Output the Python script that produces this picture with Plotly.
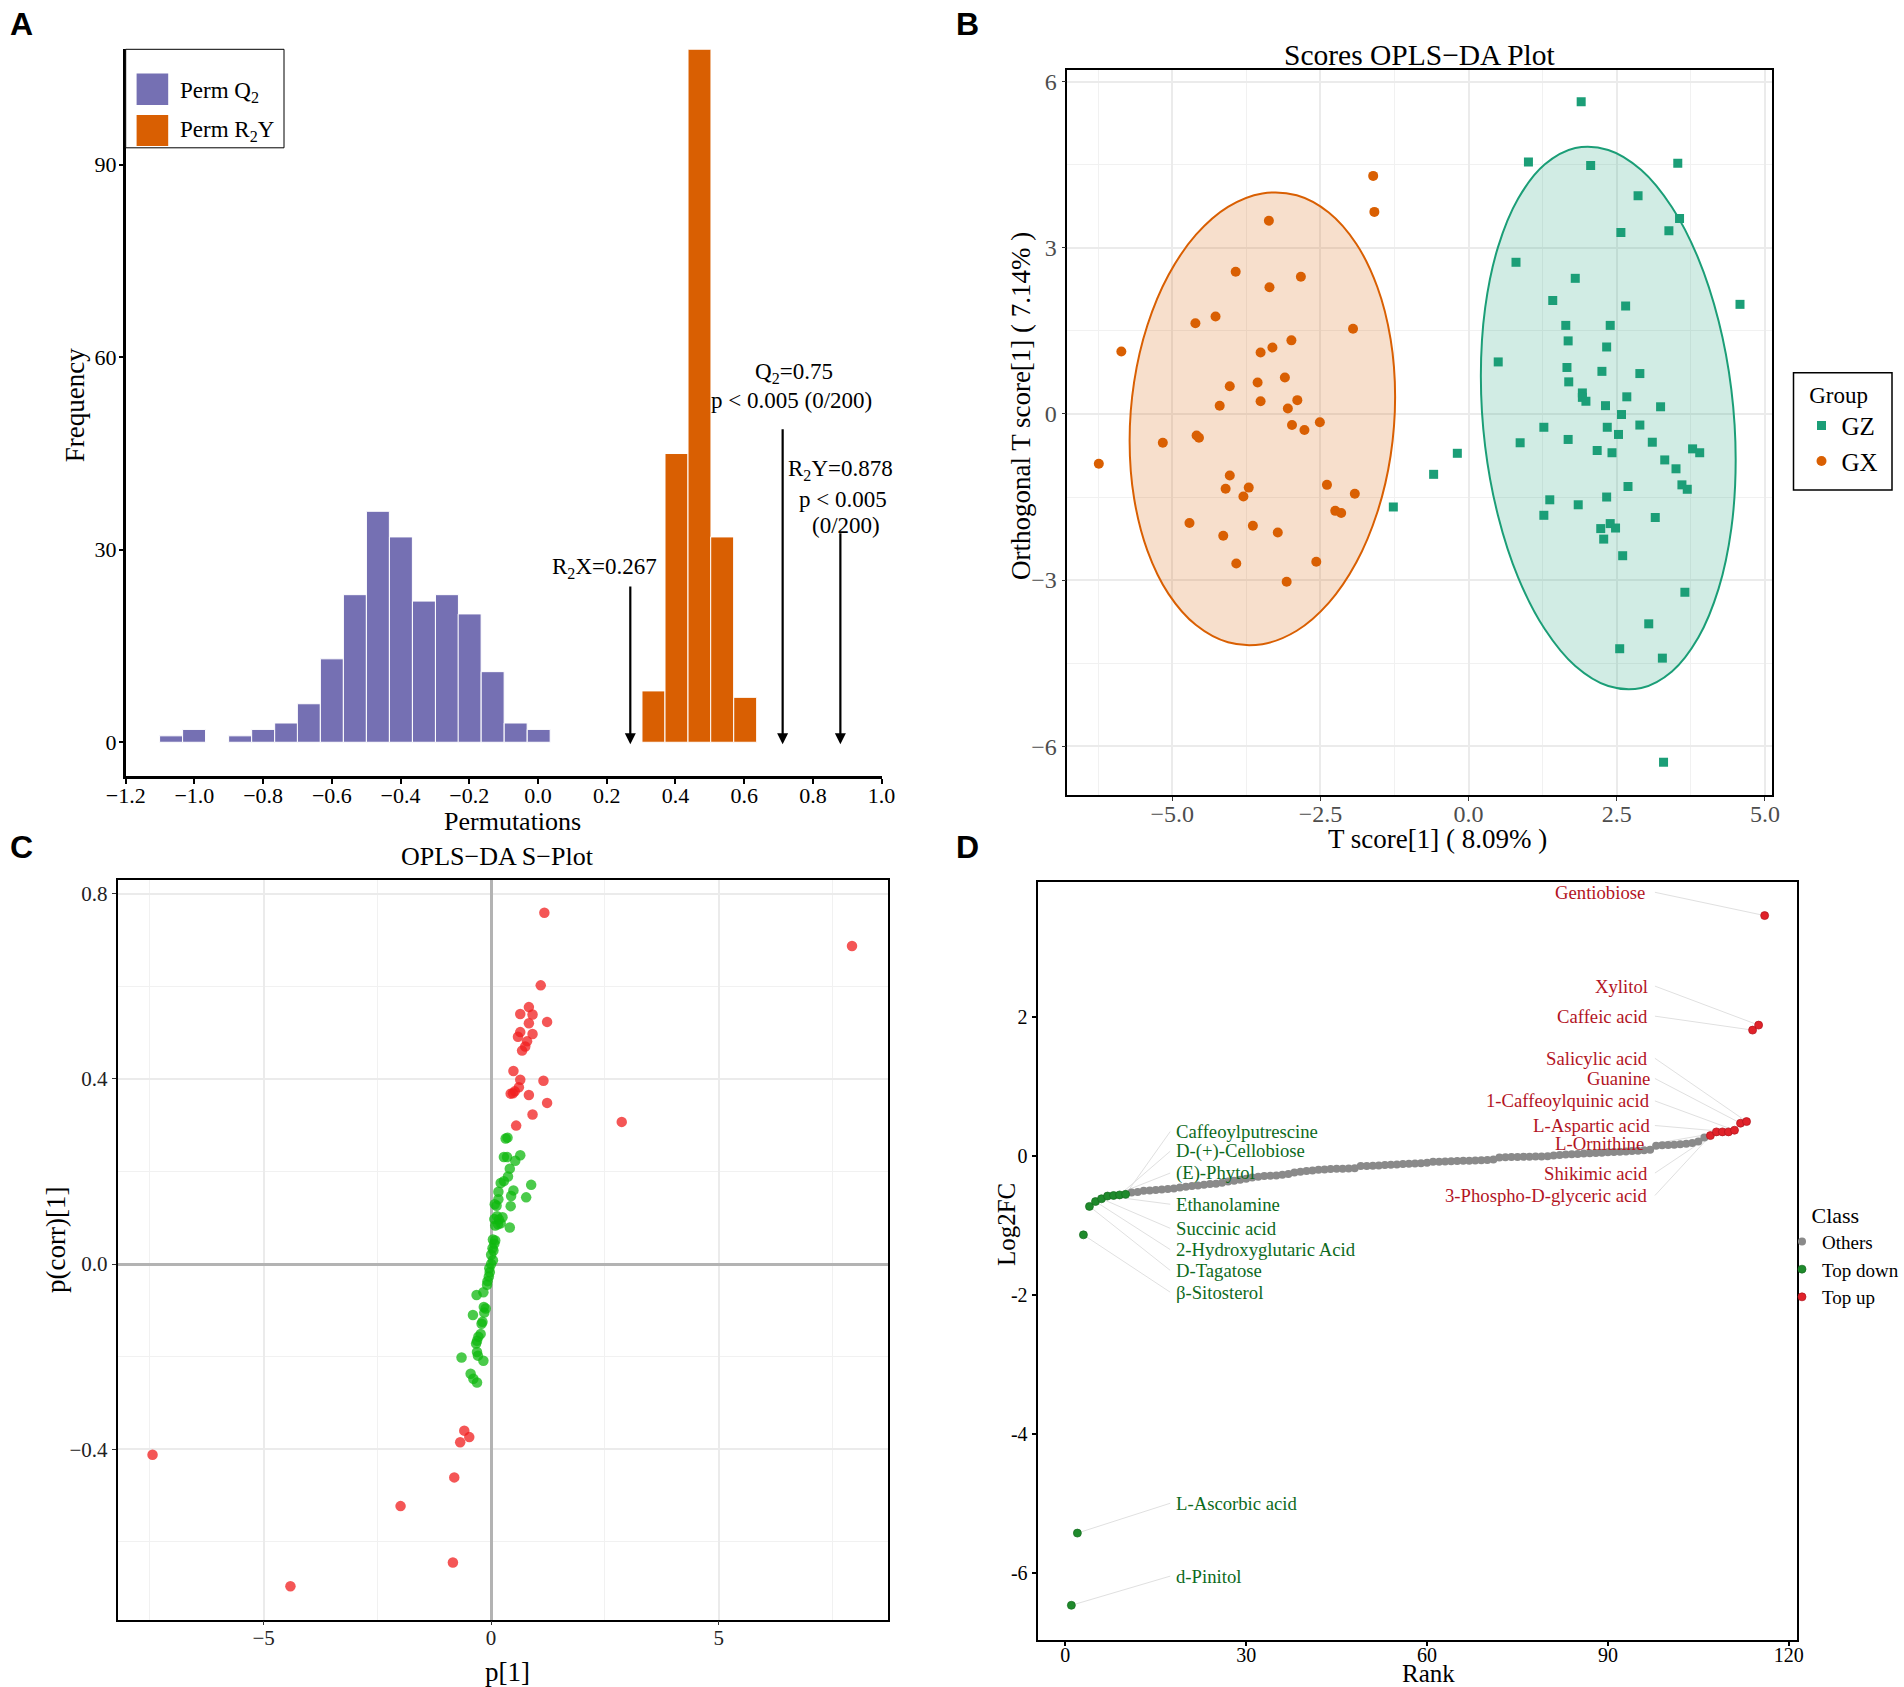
import plotly.graph_objects as go

W, H = 1904, 1687
SERIF = "Liberation Serif"

# ---------- Panel A ----------
q2_bins = [-1.068,-1.001,-0.934,-0.867,-0.800,-0.733,-0.667,-0.600,-0.533,-0.466,-0.399,-0.332,-0.265,-0.199,-0.132,-0.065,0.002]
q2_freq = [1,2,0,1,2,3,6,13,23,36,32,22,23,20,11,3,2]
r2y_bins = [0.336,0.403,0.470,0.536,0.603]
r2y_freq = [8,45,108,32,7]
bin_width = 0.0668
arrow_x = [0.2686,0.712,0.88]
arrow_top = [24.5,49,32.8]
arrow_tip = [-0.3,-0.3,-0.3]
note_text = ["R<sub>2</sub>X=0.267","Q<sub>2</sub>=0.75","p < 0.005 (0/200)","R<sub>2</sub>Y=0.878","p < 0.005","(0/200)"]
note_x = [0.1943,0.7456,0.7367,0.88,0.888,0.897]
note_y = [27.1,57.5,53.3,42.5,37.8,33.8]

# ---------- Panel B ----------
gx_x = [-1.61,-1.59,-3.37,-3.93,-2.83,-3.36,-4.27,-4.61,-1.95,-5.86,-2.99,-3.31,-3.51,-3.10,-3.56,-4.03,-2.89,-3.51,-4.20,-3.05,-2.51,-2.98,-2.77,-5.16,-4.59,-4.55,-6.24,-4.03,-4.10,-3.71,-3.80,-2.39,-1.92,-2.25,-2.15,-4.71,-3.64,-3.22,-4.14,-3.92,-2.57,-3.07]
gx_y = [4.30,3.65,3.49,2.57,2.48,2.29,1.76,1.64,1.54,1.13,1.33,1.20,1.11,0.66,0.57,0.50,0.25,0.23,0.15,0.10,-0.15,-0.20,-0.29,-0.52,-0.39,-0.43,-0.90,-1.11,-1.35,-1.33,-1.49,-1.28,-1.44,-1.75,-1.79,-1.97,-2.02,-2.14,-2.20,-2.70,-2.67,-3.03]
gz_x = [1.90,1.01,2.06,3.53,2.86,3.56,2.57,3.38,0.80,1.80,1.42,2.65,4.58,1.64,2.39,1.68,2.33,0.50,1.66,2.25,2.89,1.69,1.92,1.92,2.67,1.98,2.31,3.24,2.58,1.27,2.34,2.89,2.53,0.87,1.68,3.10,2.17,2.42,3.78,3.90,3.31,3.50,3.60,3.69,2.69,-0.19,-0.59,-1.27,1.37,2.33,1.85,1.27,3.15,2.39,2.23,2.48,2.28,2.60,3.65,3.04,2.55,3.27,3.29]
gz_y = [5.64,4.55,4.49,4.53,3.94,3.53,3.28,3.31,2.74,2.45,2.05,1.95,1.98,1.60,1.60,1.32,1.21,0.94,0.84,0.77,0.73,0.58,0.38,0.30,0.31,0.23,0.15,0.13,-0.01,-0.24,-0.24,-0.20,-0.37,-0.52,-0.46,-0.51,-0.66,-0.70,-0.63,-0.70,-0.83,-0.99,-1.28,-1.36,-1.31,-0.71,-1.09,-1.68,-1.55,-1.50,-1.64,-1.83,-1.87,-1.98,-2.07,-2.06,-2.26,-2.56,-3.22,-3.79,-4.24,-4.41,-6.29]
gx_ring_x = [-1.24,-1.316,-1.54,-1.896,-2.36,-2.90,-3.48,-4.06,-4.60,-5.064,-5.42,-5.644,-5.72,-5.644,-5.42,-5.064,-4.60,-4.06,-3.48,-2.90,-2.36,-1.896,-1.54,-1.316,-1.24]
gx_ring_y = [0.312,1.353,2.293,3.075,3.639,3.950,3.983,3.741,3.238,2.510,1.602,0.580,-0.486,-1.527,-2.467,-3.249,-3.813,-4.124,-4.157,-3.915,-3.412,-2.684,-1.776,-0.754,0.312]
gz_ring_x = [4.507,4.434,4.219,3.877,3.432,2.914,2.357,1.80,1.282,0.837,0.495,0.28,0.207,0.28,0.495,0.837,1.282,1.80,2.357,2.914,3.432,3.877,4.219,4.434,4.507]
gz_ring_y = [-0.837,0.442,1.681,2.808,3.734,4.406,4.768,4.803,4.504,3.891,3.009,1.921,0.691,-0.588,-1.827,-2.954,-3.880,-4.552,-4.914,-4.949,-4.650,-4.037,-3.155,-2.067,-0.837]

# ---------- Panel C ----------
red_p = [1.17,7.93,1.09,.83,.64,.91,.83,1.23,.64,.59,.91,.79,.75,.68,.49,.64,1.15,.61,.52,.48,.43,.83,1.23,.91,.55,2.87,-.59,-.48,-.68,-.81,-1.99,-.84,-4.41,-7.44]
red_corr = [.759,.687,.602,.555,.540,.539,.520,.523,.501,.491,.497,.481,.470,.461,.417,.398,.396,.382,.373,.369,.368,.365,.348,.323,.299,.307,-.360,-.374,-.385,-.461,-.523,-.645,-.696,-.412]
green_p = [.32,.36,.28,.35,.64,.53,.41,.37,.28,.21,.49,.44,.88,.77,.16,.16,.08,.12,.43,.07,.17,.25,.15,.09,.21,.13,.41,.04,.09,.07,.03,.05,0,.04,0,-.04,-.03,-.05,-.08,-.09,-.17,-.32,-.16,-.12,-.15,-.40,-.19,-.21,-.23,-.28,-.31,-.33,-.31,-.29,-.65,-.17,-.45,-.39,-.31]
green_corr = [.271,.273,.231,.231,.235,.223,.206,.189,.179,.175,.159,.147,.171,.144,.156,.140,.129,.126,.125,.097,.096,.101,.086,.083,.088,.103,.079,.053,.051,.044,.034,.029,.020,.008,0,-.009,-.018,-.027,-.037,-.045,-.061,-.067,-.093,-.096,-.105,-.110,-.125,-.129,-.151,-.157,-.166,-.172,-.190,-.198,-.202,-.209,-.237,-.248,-.256]

# ---------- Panel D ----------
down_rank = [1,2,3,4,5,6,7,8,9,10]
down_fc = [-6.47,-5.43,-1.134,-0.724,-0.654,-0.614,-0.575,-0.567,-0.559,-0.551]
others_rank = list(range(11,107))
others_fc = [-.523,-.518,-.499,-.494,-.489,-.480,-.475,-.465,-.451,-.441,-.432,-.422,-.412,-.403,-.398,-.384,-.365,-.355,-.341,-.326,-.307,-.297,-.288,-.283,-.278,-.269,-.259,-.235,-.225,-.216,-.206,-.197,-.192,-.187,-.182,-.182,-.177,-.173,-.144,-.144,-.139,-.134,-.129,-.125,-.120,-.115,-.110,-.106,-.101,-.096,
 -.082,-.08,-.077,-.075,-.072,-.068,-.065,-.062,-.058,-.055,-.05,-.02,-.016,-.014,-.012,-.01,-.008,-.006,-.004,-.002,.01,.017,.022,.027,.032,.036,.04,.045,.05,.056,.06,.064,.068,.072,.078,.084,.09,.15,.155,.16,.165,.17,.18,.19,.21,.267]
up_rank = [107,108,109,110,111,112,113,114,115,116]
up_fc = [.296,.349,.349,.349,.373,.474,.498,1.815,1.887,3.465]
down_labels = ["d-Pinitol","L-Ascorbic acid","β-Sitosterol","D-Tagatose","2-Hydroxyglutaric Acid","Succinic acid","Ethanolamine","(E)-Phytol","D-(+)-Cellobiose","Caffeoylputrescine"]
down_label_y = [-6.05,-5.0,-1.96,-1.646,-1.346,-1.04,-.693,-.244,.071,.354]
up_labels = ["3-Phospho-D-glyceric acid","Shikimic acid","L-Ornithine","L-Aspartic acid","1-Caffeoylquinic acid","Guanine","Salicylic acid","Caffeic acid","Xylitol","Gentiobiose"]
up_label_y = [-.567,-.244,.181,.441,.795,1.118,1.409,2.016,2.449,3.80]
up_label_x = [96.9,96.9,96.4,97.3,97.3,97.3,96.9,96.9,96.9,96.5]
D_GREEN_TEXT = "#0d6a1c"
D_RED_TEXT = "#b3141f"


def dx(l, r):
    return [l / W, r / W]


def dy(t, b):
    return [1 - b / H, 1 - t / H]


fig = go.Figure()

# A
fig.add_trace(go.Bar(x=q2_bins, y=q2_freq, width=bin_width, name="Perm Q2", xaxis="x", yaxis="y", showlegend=False,
                     marker=dict(color="#7570b3", line=dict(color="white", width=1))))
fig.add_trace(go.Bar(x=r2y_bins, y=r2y_freq, width=bin_width, name="Perm R2Y", xaxis="x", yaxis="y", showlegend=False,
                     marker=dict(color="#d95f02", line=dict(color="white", width=1))))

# B
fig.add_trace(go.Scatter(x=gx_ring_x, y=gx_ring_y, mode="lines", line=dict(color="#d95f02", width=2, shape="spline", smoothing=1.0),
                         fill="toself", fillcolor="rgba(217,95,2,0.2)", xaxis="x2", yaxis="y2", showlegend=False, hoverinfo="skip"))
fig.add_trace(go.Scatter(x=gz_ring_x, y=gz_ring_y, mode="lines", line=dict(color="#1b9e77", width=2, shape="spline", smoothing=1.0),
                         fill="toself", fillcolor="rgba(27,158,119,0.2)", xaxis="x2", yaxis="y2", showlegend=False, hoverinfo="skip"))
fig.add_trace(go.Scatter(x=gz_x, y=gz_y, mode="markers", name="GZ", xaxis="x2", yaxis="y2", legend="legend",
                         marker=dict(symbol="square", size=9, color="#1b9e77")))
fig.add_trace(go.Scatter(x=gx_x, y=gx_y, mode="markers", name="GX", xaxis="x2", yaxis="y2", legend="legend",
                         marker=dict(symbol="circle", size=10, color="#d95f02")))

# C
fig.add_trace(go.Scatter(x=green_p, y=green_corr, mode="markers", name="minor", xaxis="x3", yaxis="y3", showlegend=False,
                         marker=dict(size=10.5, color="rgba(15,184,15,0.75)")))
fig.add_trace(go.Scatter(x=red_p, y=red_corr, mode="markers", name="major", xaxis="x3", yaxis="y3", showlegend=False,
                         marker=dict(size=10.5, color="rgba(240,30,30,0.75)")))

# D: leader lines
seg_x, seg_y = [], []
for r, v, ly in zip(down_rank, down_fc, down_label_y):
    seg_x += [r, 17.4, None]
    seg_y += [v, ly, None]
for r, v, ly in zip(up_rank, up_fc, up_label_y):
    seg_x += [r, 97.8, None]
    seg_y += [v, ly, None]
fig.add_trace(go.Scatter(x=seg_x, y=seg_y, mode="lines", line=dict(color="#e0e0e0", width=1), xaxis="x4", yaxis="y4",
                         showlegend=False, hoverinfo="skip"))
fig.add_trace(go.Scatter(x=others_rank, y=others_fc, mode="markers", name="Others", xaxis="x4", yaxis="y4", legend="legend2",
                         marker=dict(size=8, color="#8a8a8a")))
fig.add_trace(go.Scatter(x=down_rank, y=down_fc, mode="markers", name="Top down", xaxis="x4", yaxis="y4", legend="legend2",
                         marker=dict(size=8, color="#1f8a2c", line=dict(color="#156b20", width=0.7))))
fig.add_trace(go.Scatter(x=up_rank, y=up_fc, mode="markers", name="Top up", xaxis="x4", yaxis="y4", legend="legend2",
                         marker=dict(size=8, color="#e0222a", line=dict(color="#b0141c", width=0.7))))

annotations = []


def text(s, x, y, size, color="black", xref="paper", yref="paper", xanchor="center", yanchor="middle", family=SERIF, angle=0):
    annotations.append(dict(text=s, x=x, y=y, xref=xref, yref=yref, xanchor=xanchor, yanchor=yanchor, showarrow=False, textangle=angle,
                            font=dict(family=family, size=size, color=color)))


def ptext(s, px, py, size, **kw):
    text(s, px / W, 1 - py / H, size, **kw)


# Panel letters
for s, px, py in [("A", 21, 24), ("B", 967, 24), ("C", 21, 847), ("D", 967, 847)]:
    ptext("<b>%s</b>" % s, px, py, 32, family="Liberation Sans")

# A notes + arrows
for s, x, y in zip(note_text, note_x, note_y):
    text(s, x, y, 23, xref="x", yref="y")
for x, t, tip in zip(arrow_x, arrow_top, arrow_tip):
    annotations.append(dict(x=x, y=tip, ax=x, ay=t, xref="x", yref="y", axref="x", ayref="y", text="", showarrow=True,
                            arrowhead=2, arrowsize=1, arrowwidth=2.2, arrowcolor="black"))

# A hand-made legend labels
ptext("Perm Q<sub>2</sub>", 178, 92, 23, xanchor="left")
ptext("Perm R<sub>2</sub>Y", 178, 131, 23, xanchor="left")

# Titles of B, C
ptext("Scores OPLS−DA Plot", 1419.5, 55, 29.5)
ptext("OPLS−DA S−Plot", 497, 856, 26)

# Axis titles
ptext("Permutations", 512, 821, 26)
ptext("Frequency", 74.7, 405.5, 27, angle=-90)
ptext("T score[1] ( 8.09% )", 1437.7, 839, 27)
ptext("Orthogonal T score[1] ( 7.14% )", 1020.6, 406.5, 27, angle=-90)
ptext("p[1]", 507, 1671.5, 27)
ptext("p(corr)[1]", 55.9, 1240, 27, angle=-90)
ptext("Rank", 1428.6, 1673, 25)
ptext("Log2FC", 1006.6, 1224.5, 25, angle=-90)

# D labels
for s, r, ly in zip(down_labels, down_rank, down_label_y):
    text(s, 18.1, ly, 18.7, color=D_GREEN_TEXT, xref="x4", yref="y4", xanchor="left")
for s, lx, ly in zip(up_labels, up_label_x, up_label_y):
    text(s, lx, ly, 18.7, color=D_RED_TEXT, xref="x4", yref="y4", xanchor="right")

shapes = [
    dict(type="rect", xref="paper", yref="paper", x0=125.7 / W, x1=284 / W, y0=1 - 147.8 / H, y1=1 - 49.3 / H,
         line=dict(color="black", width=1), fillcolor="white", layer="above"),
    dict(type="rect", xref="paper", yref="paper", x0=136.6 / W, x1=168.2 / W, y0=1 - 105 / H, y1=1 - 73.4 / H,
         line=dict(width=0), fillcolor="#7570b3", layer="above"),
    dict(type="rect", xref="paper", yref="paper", x0=136.6 / W, x1=168.2 / W, y0=1 - 146 / H, y1=1 - 115 / H,
         line=dict(width=0), fillcolor="#d95f02", layer="above"),
    dict(type="rect", xref="paper", yref="paper", x0=1793.5 / W, x1=1892 / W, y0=1 - 490 / H, y1=1 - 372.8 / H,
         line=dict(color="black", width=1.5), fillcolor="rgba(0,0,0,0)", layer="above"),
]

tickf = dict(family=SERIF, size=22, color="black")
GRID = "#ebebeb"

fig.update_layout(
    width=W, height=H, margin=dict(l=0, r=0, t=0, b=0, autoexpand=False), paper_bgcolor="white", plot_bgcolor="white",
    barmode="overlay", font=dict(family=SERIF, color="black"), annotations=annotations, shapes=shapes,
    legend=dict(x=1801.5 / W, y=1 - 372.8 / H, xanchor="left", yanchor="top", borderwidth=0,
                bgcolor="rgba(0,0,0,0)", font=dict(family=SERIF, size=25, color="black"),
                title=dict(text="\u00a0Group", font=dict(family=SERIF, size=23, color="black"))),
    legend2=dict(x=1782 / W, y=1 - 1194 / H, xanchor="left", yanchor="top", borderwidth=0, bgcolor="rgba(0,0,0,0)",
                 font=dict(family=SERIF, size=19, color="black"), tracegroupgap=0,
                 title=dict(text="\u00a0\u00a0\u00a0\u00a0\u00a0Class", font=dict(family=SERIF, size=22, color="black"))),

    xaxis=dict(domain=dx(125.7, 881.6), range=[-1.2, 1.0], tick0=-1.2, dtick=0.2, tickformat=".1f", anchor="y",
               showline=True, linecolor="black", linewidth=2.5, ticks="outside", ticklen=5, tickwidth=1.5, tickcolor="black",
               showgrid=False, zeroline=False, tickfont=tickf, ticklabelstandoff=-7),
    yaxis=dict(domain=dy(49.3, 776), range=[-5.26, 108], tickmode="array", tickvals=[0, 30, 60, 90], anchor="x",
               showline=True, linecolor="black", linewidth=2.5, ticks="outside", ticklen=4, tickwidth=1.5, tickcolor="black",
               showgrid=False, zeroline=False, tickfont=tickf, ticklabelstandoff=-2),

    xaxis2=dict(domain=dx(1067.4, 1772), range=[-6.77, 5.12], tick0=0, dtick=2.5, tickformat=".1f", anchor="y2", mirror=True,
                showline=True, linecolor="black", linewidth=1.5, ticks="outside", ticklen=4, tickcolor="#333333",
                showgrid=True, gridcolor=GRID, gridwidth=2, zeroline=False, ticklabelstandoff=-7,
                minor=dict(dtick=1.25, tick0=0, showgrid=True, gridcolor="#f1f1f1", gridwidth=1, ticks=""),
                tickfont=dict(family=SERIF, size=24, color="#4d4d4d")),
    yaxis2=dict(domain=dy(69.6, 794.9), range=[-6.88, 6.22], tick0=0, dtick=3, anchor="x2", mirror=True,
                showline=True, linecolor="black", linewidth=1.5, ticks="outside", ticklen=4, tickcolor="#333333",
                showgrid=True, gridcolor=GRID, gridwidth=2, zeroline=False,
                minor=dict(dtick=1.5, tick0=0, showgrid=True, gridcolor="#f1f1f1", gridwidth=1, ticks=""),
                tickfont=dict(family=SERIF, size=24, color="#4d4d4d")),

    xaxis3=dict(domain=dx(117.5, 887.5), range=[-8.21, 8.71], tick0=0, dtick=5, anchor="y3", mirror=True,
                showline=True, linecolor="black", linewidth=1.5, ticks="outside", ticklen=4, tickcolor="#333333",
                showgrid=True, gridcolor=GRID, gridwidth=2, zeroline=True, zerolinecolor="#b3b3b3", zerolinewidth=3,
                ticklabelstandoff=-5,
                minor=dict(dtick=2.5, tick0=0, showgrid=True, gridcolor="#f1f1f1", gridwidth=1, ticks=""),
                tickfont=dict(family=SERIF, size=21, color="#222222")),
    yaxis3=dict(domain=dy(879.8, 1619.5), range=[-0.768, 0.83], tick0=0, dtick=0.4, tickformat=".1f", anchor="x3", mirror=True,
                showline=True, linecolor="black", linewidth=1.5, ticks="outside", ticklen=4, tickcolor="#333333",
                showgrid=True, gridcolor=GRID, gridwidth=2, zeroline=True, zerolinecolor="#b3b3b3", zerolinewidth=3,
                minor=dict(dtick=0.2, tick0=0, showgrid=True, gridcolor="#f1f1f1", gridwidth=1, ticks=""),
                tickfont=dict(family=SERIF, size=21, color="#222222")),

    xaxis4=dict(domain=dx(1037.6, 1796.6), range=[-4.6, 121.3], tickmode="array", tickvals=[0, 30, 60, 90, 120], anchor="y4", mirror=True,
                showline=True, linecolor="black", linewidth=2, ticks="outside", ticklen=4, tickwidth=1.5, tickcolor="black",
                showgrid=False, zeroline=False, tickfont=dict(family=SERIF, size=20, color="black"), ticklabelstandoff=-8),
    yaxis4=dict(domain=dy(881.9, 1640), range=[-6.97, 3.95], tickmode="array", tickvals=[2, 0, -2, -4, -6],
                ticktext=["2", "0", "-2", "-4", "-6"], anchor="x4", mirror=True,
                showline=True, linecolor="black", linewidth=2, ticks="outside", ticklen=4, tickwidth=1.5, tickcolor="black",
                showgrid=False, zeroline=False, tickfont=dict(family=SERIF, size=20, color="black")),
)

fig.write_html("out.html", config=dict(displayModeBar=False), post_script="document.body.style.margin='0';")
